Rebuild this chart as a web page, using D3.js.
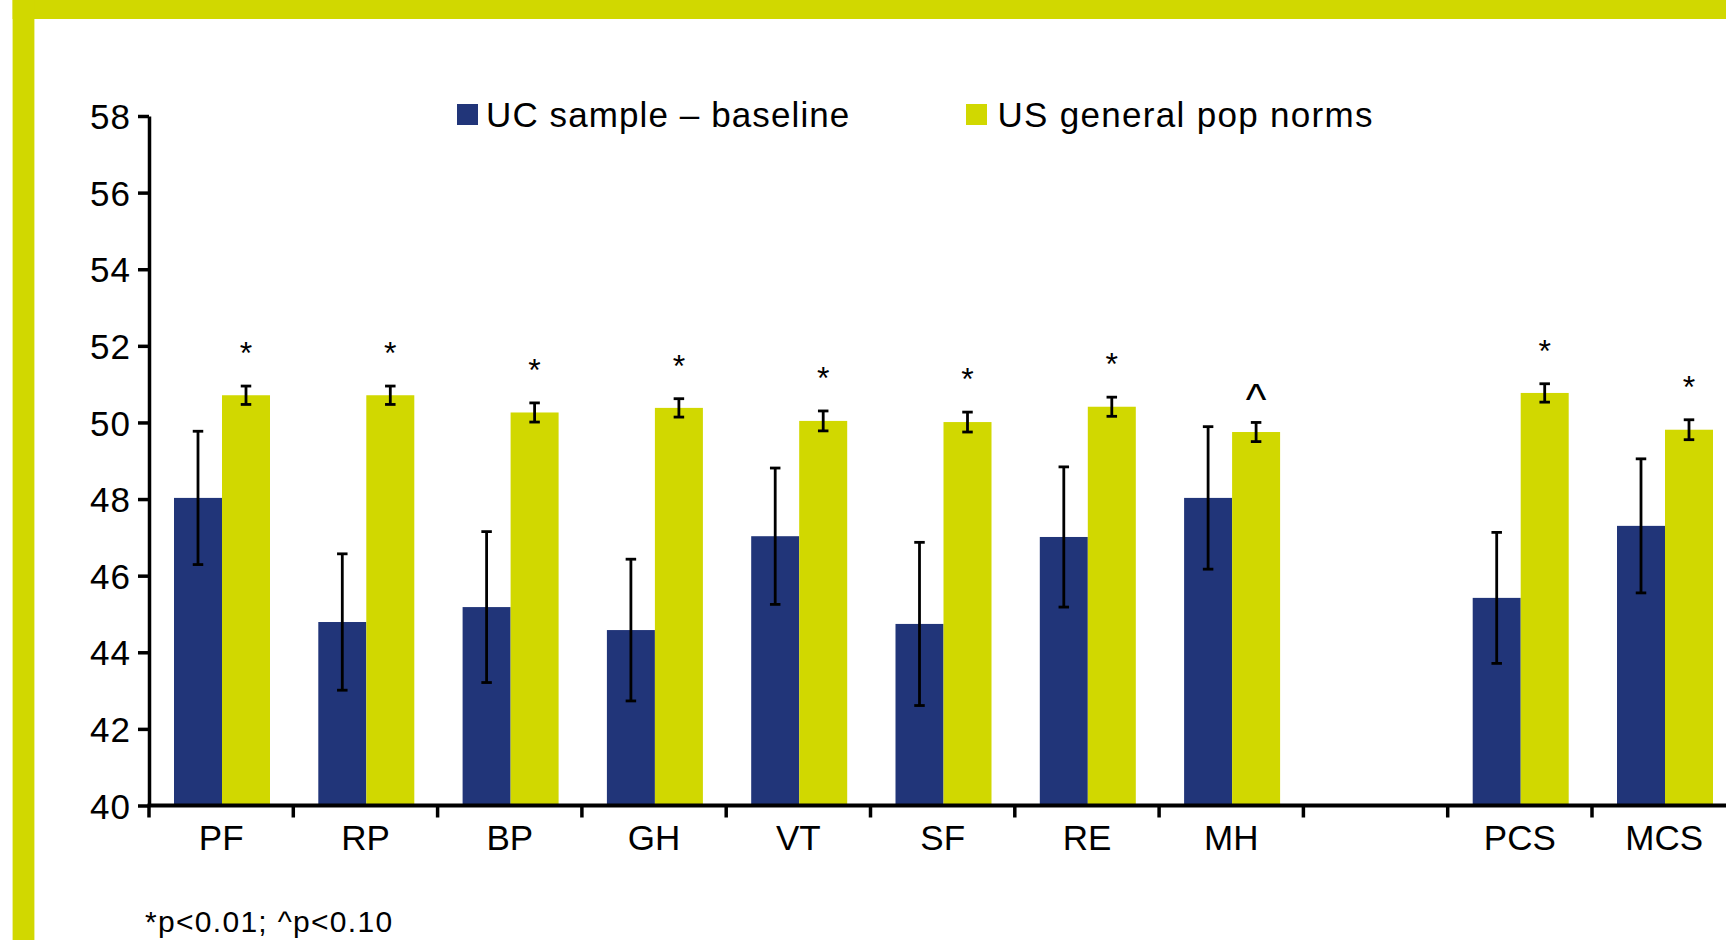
<!DOCTYPE html>
<html>
<head>
<meta charset="utf-8">
<script src="https://cdn.jsdelivr.net/npm/d3@7"></script>
<style>
  html, body { margin: 0; padding: 0; background: #ffffff; }
  svg { display: block; }
  text { font-family: "Liberation Sans", Arial, Helvetica, sans-serif; fill: #000; }
</style>
</head>
<body>
<svg id="chart" width="1726" height="940"></svg>
<script>
// SF-36 domain and summary scores (blank slot separates the two summary scores)
const categories = ["PF", "RP", "BP", "GH", "VT", "SF", "RE", "MH", "", "PCS", "MCS"];
const scoreLabels = ["PF", "RP", "BP", "GH", "VT", "SF", "RE", "MH", "PCS", "MCS"];
const seriesNames = ["UC sample \u2013 baseline", "US general pop norms"];

// UC sample at baseline: mean and error
const ucMean = [48.03, 44.79, 45.18, 44.58, 47.03, 44.74, 47.01, 48.03, 45.42, 47.30];
const ucErr  = [1.74, 1.78, 1.97, 1.85, 1.78, 2.13, 1.83, 1.86, 1.71, 1.75];

// US general population norms: mean and error
const normMean = [50.71, 50.71, 50.26, 50.38, 50.04, 50.01, 50.41, 49.75, 50.77, 49.81];
const normErr  = [0.24, 0.24, 0.25, 0.24, 0.26, 0.26, 0.25, 0.25, 0.24, 0.26];

// Significance markers for each comparison
const sigMarks = ["*", "*", "*", "*", "*", "*", "*", "^", "*", "*"];

// Axis ticks
const yTicks = [40, 42, 44, 46, 48, 50, 52, 54, 56, 58];
const footnote = "*p<0.01; ^p<0.10";

const colors = ["#213579", "#d1d800"];

const svg = d3.select("#chart");

// Yellow frame along the top and left
svg.append("rect").attr("x", 12.6).attr("y", 0).attr("width", 1726).attr("height", 19).attr("fill", colors[1]);
svg.append("rect").attr("x", 12.6).attr("y", 0).attr("width", 21.8).attr("height", 940).attr("fill", colors[1]);

// Scales
const bandW = 144.3;
const x0 = 149;
const x = d3.scaleBand().domain(categories).range([x0, x0 + bandW * categories.length]).padding(0);
const xs = d3.scaleBand().domain(seriesNames).range([25, 121]).padding(0);
const y = d3.scaleLinear().domain([40, 58]).range([805.5, 116]);

// Rows for drawing
const rows = scoreLabels.map((c, i) => ({
  cat: c,
  vals: [
    { s: seriesNames[0], v: ucMean[i], e: ucErr[i] },
    { s: seriesNames[1], v: normMean[i], e: normErr[i] }
  ],
  mark: sigMarks[i]
}));

const groups = svg.append("g").selectAll("g")
  .data(rows).join("g")
  .attr("transform", d => `translate(${x(d.cat)},0)`);

// Bars
groups.selectAll("rect")
  .data(d => d.vals).join("rect")
  .attr("x", d => xs(d.s))
  .attr("width", xs.bandwidth())
  .attr("y", d => y(d.v))
  .attr("height", d => y(40) - y(d.v))
  .attr("fill", (d, i) => colors[i]);

// Error bars
const cap = 10.5;
const eb = groups.selectAll("g.err")
  .data(d => d.vals).join("g").attr("class", "err")
  .attr("stroke", "#000").attr("stroke-width", 2.8).attr("fill", "none");
eb.append("line")
  .attr("x1", d => xs(d.s) + xs.bandwidth() / 2)
  .attr("x2", d => xs(d.s) + xs.bandwidth() / 2)
  .attr("y1", d => y(d.v + d.e))
  .attr("y2", d => y(d.v - d.e));
eb.append("line")
  .attr("x1", d => xs(d.s) + xs.bandwidth() / 2 - cap / 2)
  .attr("x2", d => xs(d.s) + xs.bandwidth() / 2 + cap / 2)
  .attr("y1", d => y(d.v + d.e)).attr("y2", d => y(d.v + d.e));
eb.append("line")
  .attr("x1", d => xs(d.s) + xs.bandwidth() / 2 - cap / 2)
  .attr("x2", d => xs(d.s) + xs.bandwidth() / 2 + cap / 2)
  .attr("y1", d => y(d.v - d.e)).attr("y2", d => y(d.v - d.e));

// Significance markers above the norms bars
groups.append("text")
  .attr("x", xs(seriesNames[1]) + xs.bandwidth() / 2)
  .attr("y", (d, i) => y(normMean[i] + normErr[i]) - (d.mark === "^" ? 7 : 22))
  .attr("text-anchor", "middle")
  .attr("font-size", d => d.mark === "^" ? 44 : 32)
  .text(d => d.mark);

// Y axis
const yAxis = svg.append("g")
  .attr("transform", `translate(${x0},0)`)
  .call(d3.axisLeft(y).tickValues(yTicks).tickFormat(d3.format("d")).tickSize(11).tickSizeOuter(0).tickPadding(7));
yAxis.select(".domain").attr("stroke", "#000").attr("stroke-width", 3.5);
yAxis.selectAll(".tick line").attr("stroke", "#000").attr("stroke-width", 3.5);
yAxis.selectAll(".tick text")
  .attr("font-size", 35)
  .attr("font-family", "'Liberation Sans', Arial, Helvetica, sans-serif")
  .attr("fill", "#000")
  .attr("dy", "0.36em")
  .attr("letter-spacing", 1);

// X axis: line and labels at band centres
const xAxis = svg.append("g")
  .attr("transform", `translate(0,${y(40)})`)
  .call(d3.axisBottom(x).tickSize(0).tickSizeOuter(0).tickPadding(0));
xAxis.select(".domain").attr("stroke", "#000").attr("stroke-width", 3.8)
  .attr("d", `M${x0 - 1.5},0H${x0 + bandW * categories.length}`);
xAxis.selectAll(".tick text")
  .attr("font-size", 35)
  .attr("font-family", "'Liberation Sans', Arial, Helvetica, sans-serif")
  .attr("fill", "#000")
  .attr("y", 44.5)
  .attr("dy", 0);

// X tick marks on band boundaries
svg.append("g").selectAll("line")
  .data(categories).join("line")
  .attr("x1", d => x(d)).attr("x2", d => x(d))
  .attr("y1", y(40)).attr("y2", y(40) + 12)
  .attr("stroke", "#000").attr("stroke-width", 3.5);

// Legend
const legendX = [457, 966];
const legend = svg.append("g").selectAll("g")
  .data(seriesNames).join("g")
  .attr("transform", (d, i) => `translate(${legendX[i]},104)`);
legend.append("rect").attr("width", 21).attr("height", 21).attr("fill", (d, i) => colors[i]);
legend.append("text")
  .attr("x", (d, i) => i === 0 ? 29 : 31.5)
  .attr("y", 22.7)
  .attr("font-size", 35)
  .attr("letter-spacing", (d, i) => i === 0 ? 1.1 : 1.3)
  .text(d => d);

// Footnote
svg.append("text")
  .attr("x", 145).attr("y", 931.7)
  .attr("font-size", 30)
  .attr("letter-spacing", 1.3)
  .text(footnote);
</script>
</body>
</html>
